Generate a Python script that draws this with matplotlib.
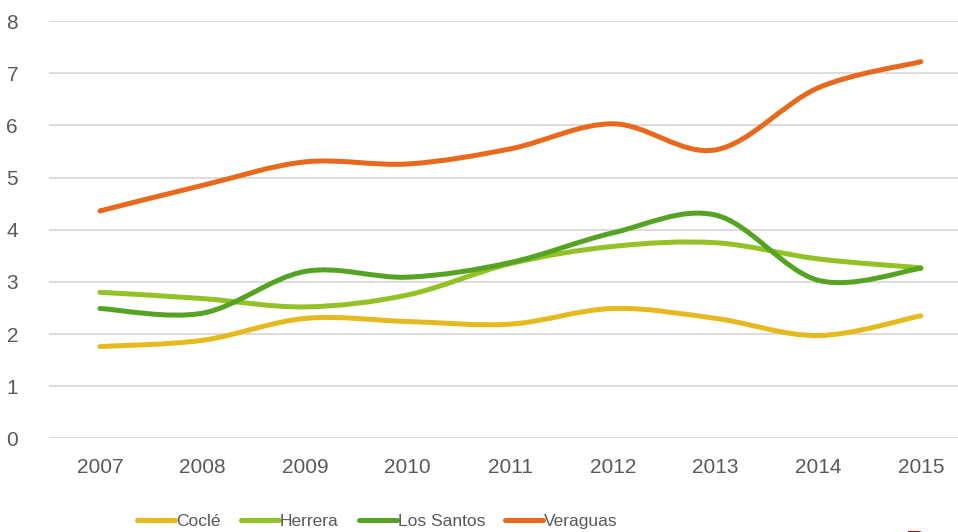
import matplotlib
matplotlib.use("Agg")
import matplotlib.pyplot as plt
from matplotlib.path import Path
from matplotlib.patches import PathPatch
from matplotlib.lines import Line2D
import numpy as np

# Datos por provincia
years = ["2007", "2008", "2009", "2010", "2011", "2012", "2013", "2014", "2015"]
cocle = [1.76, 1.88, 2.30, 2.24, 2.19, 2.49, 2.30, 1.97, 2.35]
herrera = [2.80, 2.68, 2.52, 2.75, 3.35, 3.68, 3.75, 3.44, 3.27]
los_santos = [2.49, 2.40, 3.20, 3.09, 3.37, 3.94, 4.28, 3.03, 3.26]
veraguas = [4.36, 4.85, 5.30, 5.26, 5.55, 6.03, 5.53, 6.72, 7.22]

names = ["Coclé", "Herrera", "Los Santos", "Veraguas"]
colors = ["#E6BA1F", "#92C226", "#55A322", "#E8691C"]
series = [cocle, herrera, los_santos, veraguas]


def smooth_path(xs, ys):
    # curva suavizada tipo Excel (Catmull-Rom en Bezier cubicas)
    p = np.column_stack([xs, ys]).astype(float)
    ext = np.vstack([p[0], p, p[-1]])
    verts = [p[0]]
    codes = [Path.MOVETO]
    for i in range(len(p) - 1):
        p0, p1, p2, p3 = ext[i], ext[i + 1], ext[i + 2], ext[i + 3]
        c1 = p1 + (p2 - p0) / 6.0
        c2 = p2 - (p3 - p1) / 6.0
        verts += [c1, c2, p2]
        codes += [Path.CURVE4] * 3
    return Path(verts, codes)


plt.rcParams["font.family"] = ["Liberation Sans", "DejaVu Sans"]

fig = plt.figure(figsize=(9.58, 5.32), dpi=100)
ax = fig.add_axes([0.0508, 0.176, 0.964, 0.7845])

x = np.arange(len(years))
for vals, c in zip(series, colors):
    patch = PathPatch(smooth_path(x, vals), fill=False, edgecolor=c,
                      lw=3.6, capstyle="round", joinstyle="round", zorder=3)
    ax.add_patch(patch)

ax.set_xlim(-0.5, len(years) - 0.5)
ax.set_ylim(0, 8)
ax.set_yticks(range(0, 9))
ax.set_xticks(x)
ax.set_xticklabels(years)
ax.grid(axis="y", color="#d9d9d9", lw=1.3)
ax.set_axisbelow(True)
for s in ax.spines.values():
    s.set_visible(False)
ax.tick_params(length=0, labelsize=15, labelcolor="#595959")
ax.tick_params(axis="y", pad=22)
ax.tick_params(axis="x", pad=14)

handles = [Line2D([0], [0], color=c, lw=3.6, solid_capstyle="round") for c in colors]
leg = fig.legend(handles, names, loc="center", bbox_to_anchor=(0.394, 0.019),
                 ncol=4, frameon=False, handlelength=2.2, handletextpad=0.05,
                 columnspacing=1.15, fontsize=12.5)
for t in leg.get_texts():
    t.set_color("#595959")

# logo parcial abajo a la derecha
fig.text(0.946, -0.04, "P", color="#C00000", fontsize=22, fontweight="bold")

fig.savefig("out.png", dpi=100)
